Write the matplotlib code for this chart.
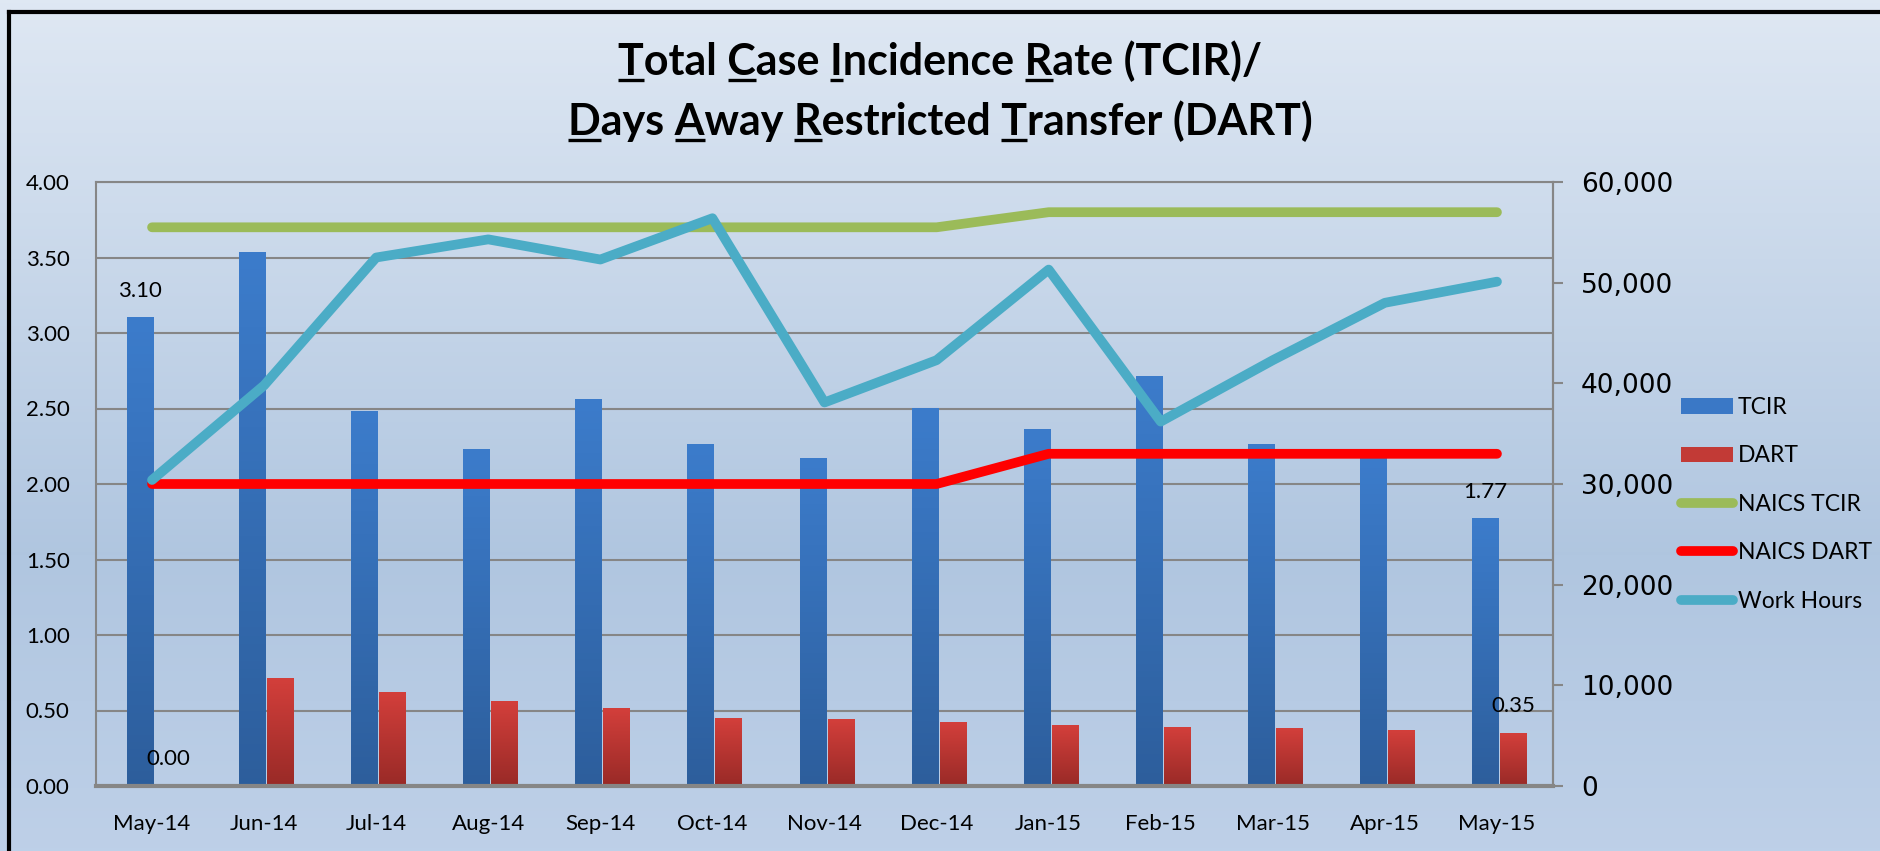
import numpy as np
import matplotlib
matplotlib.use("Agg")
import matplotlib.pyplot as plt
from matplotlib import font_manager
from matplotlib.lines import Line2D
from matplotlib.ticker import FuncFormatter, MultipleLocator

months = ["May-14", "Jun-14", "Jul-14", "Aug-14", "Sep-14", "Oct-14", "Nov-14",
          "Dec-14", "Jan-15", "Feb-15", "Mar-15", "Apr-15", "May-15"]
tcir = [3.10, 3.53, 2.48, 2.23, 2.56, 2.26, 2.17, 2.50, 2.36, 2.71, 2.26, 2.17, 1.77]
dart = [0.00, 0.71, 0.62, 0.56, 0.51, 0.45, 0.44, 0.42, 0.40, 0.39, 0.38, 0.37, 0.35]
naics_tcir = [3.7, 3.7, 3.7, 3.7, 3.7, 3.7, 3.7, 3.7, 3.8, 3.8, 3.8, 3.8, 3.8]
naics_dart = [2.0, 2.0, 2.0, 2.0, 2.0, 2.0, 2.0, 2.0, 2.2, 2.2, 2.2, 2.2, 2.2]
work_hours = [30400, 39800, 52500, 54300, 52300, 56400, 38100, 42300, 51300,
              36200, 42300, 48000, 50100]
legend_labels = ["TCIR", "DART", "NAICS TCIR", "NAICS DART", "Work Hours"]

title1 = "Total Case Incidence Rate (TCIR)/"
title2 = "Days Away Restricted Transfer (DART)"

FONT = "Lato"
GRID = "#868686"
W, H = 1881, 851

plt.rcParams["font.family"] = [FONT, "DejaVu Sans"]

# legend text is narrow in the reference; use a narrow face if there is one
names = {f.name for f in font_manager.fontManager.ttflist}
if "Liberation Sans Narrow" in names:
    leg_font, leg_size = "Liberation Sans Narrow", 19
else:
    leg_font, leg_size = FONT, 16.5
leg_em = leg_size * 100 / 72

fig = plt.figure(figsize=(W / 100, H / 100), dpi=100)

# background gradient over the whole figure (row 0 = top)
bg = fig.add_axes([0, 0, 1, 1], zorder=-10)
bg.axis("off")
grad = np.linspace(0, 1, 256)[:, None]
c_top = np.array([0.875, 0.910, 0.955])
c_mid = np.array([0.690, 0.776, 0.878])
c_bot = np.array([0.745, 0.816, 0.910])
cols = np.where(grad < 0.65,
                c_top + (c_mid - c_top) * (grad / 0.65),
                c_mid + (c_bot - c_mid) * ((grad - 0.65) / 0.35))
bg.imshow(cols[:, None, :], aspect="auto", extent=[0, 1, 0, 1], origin="upper")
bg.set_xlim(0, 1)
bg.set_ylim(0, 1)

# black frame lines (left / top)
fig.add_artist(Line2D([9 / W, 9 / W], [0, 1 - 12 / H], color="black", lw=3))
fig.add_artist(Line2D([9 / W, 1], [1 - 12 / H, 1 - 12 / H], color="black", lw=3))

ax = fig.add_axes([96 / W, 1 - 786 / H, (1553 - 96) / W, (786 - 182) / H])
ax.set_facecolor("none")
x = np.arange(len(months))
bw = 0.232

b1 = ax.bar(x - 0.107, tcir, bw, color="#3a78c6", zorder=2)
b2 = ax.bar(x + 0.143, dart, bw, color="#c23a36", zorder=2)


def shade(bars, top, bottom):
    # vertical gradient inside each bar, top colour at the bar top
    g = np.linspace(0, 1, 64)[:, None]
    c = np.array(top) + (np.array(bottom) - np.array(top)) * g
    for p in bars:
        if p.get_height() <= 0:
            continue
        ax.imshow(c[:, None, :], aspect="auto", zorder=2.1, origin="upper",
                  extent=[p.get_x(), p.get_x() + p.get_width(), 0, p.get_height()])


shade(b1, [0.235, 0.486, 0.796], [0.176, 0.369, 0.612])
shade(b2, [0.827, 0.247, 0.231], [0.600, 0.165, 0.153])

l1, = ax.plot(x, naics_tcir, color="#9bbb59", lw=7, solid_capstyle="round", zorder=3)
l2, = ax.plot(x, naics_dart, color="#ff0000", lw=7, solid_capstyle="round", zorder=3)

ax.set_xlim(-0.5, len(months) - 0.5)
ax.set_ylim(0, 4)
ax.yaxis.set_major_locator(MultipleLocator(0.5))
ax.yaxis.set_major_formatter(FuncFormatter(lambda v, p: f"{v:.2f}"))
ax.grid(axis="y", color=GRID, lw=1.5, zorder=0)
ax.set_axisbelow(True)
ax.set_xticks(x)
ax.set_xticklabels(months)
ax.tick_params(axis="x", length=0, pad=20, labelsize=16)
ax.tick_params(axis="y", length=0, pad=19, labelsize=16)
for s in ["left", "right", "top"]:
    ax.spines[s].set_color(GRID)
    ax.spines[s].set_linewidth(1.5)
ax.spines["bottom"].set_color(GRID)
ax.spines["bottom"].set_linewidth(3)

ax2 = ax.twinx()
l3, = ax2.plot(x, work_hours, color="#4bacc6", lw=7, solid_capstyle="round", zorder=4)
ax2.set_ylim(0, 60000)
ax2.yaxis.set_major_locator(MultipleLocator(10000))
ax2.yaxis.set_major_formatter(FuncFormatter(lambda v, p: f"{v:,.0f}"))
ax2.tick_params(axis="y", length=7, width=1.5, color=GRID, pad=13, labelsize=19)
for lab in ax2.get_yticklabels():
    lab.set_family("DejaVu Sans")
for s in ax2.spines.values():
    s.set_visible(False)
ax2.spines["right"].set_visible(True)
ax2.spines["right"].set_color(GRID)
ax2.spines["right"].set_linewidth(1.5)

# data labels on first and last months
for bars, vals in [(b1, tcir), (b2, dart)]:
    for i in [0, len(vals) - 1]:
        p = bars[i]
        ax.annotate(f"{vals[i]:.2f}", (p.get_x() + p.get_width() / 2, vals[i]),
                    xytext=(0, 12), textcoords="offset points",
                    ha="center", va="bottom", fontsize=16, zorder=6)

fig.legend([b1, b2, l1, l2, l3], legend_labels,
           loc="upper left", bbox_to_anchor=(1681 / W, 1 - 397 / H),
           frameon=False, prop={"family": leg_font, "size": leg_size},
           borderpad=0, borderaxespad=0,
           handlelength=52 / leg_em, handleheight=15 / leg_em,
           handletextpad=5 / leg_em,
           labelspacing=(49.2 - 0.95 * leg_em) / leg_em)

# title with underlined initials
t1 = fig.text(0.5, 1 - 61 / H, title1, ha="center", va="center",
              fontsize=31, fontweight="bold")
t2 = fig.text(0.5, 1 - 121 / H, title2, ha="center", va="center",
              fontsize=31, fontweight="bold")

fig.canvas.draw()
r = fig.canvas.get_renderer()


def underline(txt, idxs):
    s = txt.get_text()
    fp = txt.get_fontproperties()
    bb = txt.get_window_extent(r)
    _, _, d = r.get_text_width_height_descent(s, fp, ismath=False)
    base = bb.y0 + d
    for i in idxs:
        w_end = r.get_text_width_height_descent(s[:i + 1], fp, ismath=False)[0]
        w_ch = r.get_text_width_height_descent(s[i], fp, ismath=False)[0]
        x1 = bb.x0 + w_end
        x0 = x1 - w_ch
        y = base - 5
        fig.add_artist(Line2D([x0 / W, x1 / W], [y / H, y / H],
                              color="black", lw=2.4, solid_capstyle="butt"))


underline(t1, [0, 6, 11, 21])
underline(t2, [0, 5, 10, 21])

fig.savefig("out.png", dpi=100)
